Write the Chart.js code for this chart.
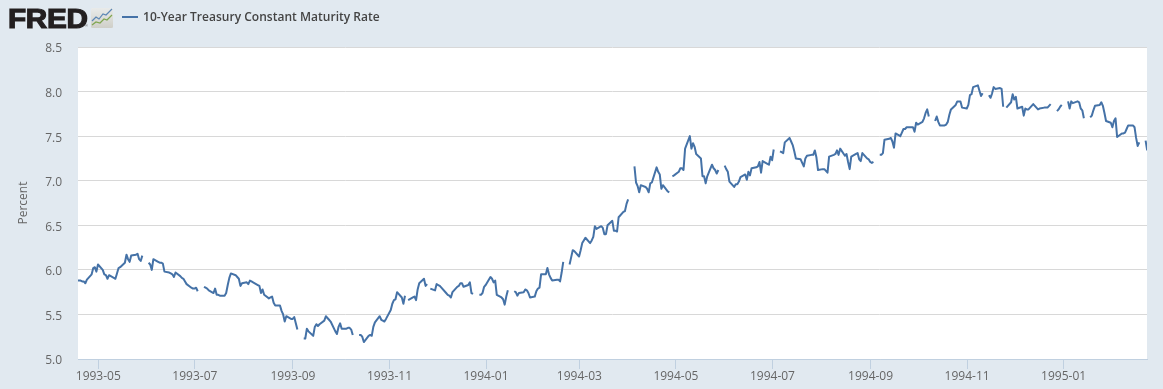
<!DOCTYPE html>
<html><head><meta charset="utf-8">
<script src="https://cdn.jsdelivr.net/npm/chart.js@4"></script>
<style>
html,body{margin:0;padding:0;background:#e1e9f0;width:1163px;height:389px;overflow:hidden}
#wrap{position:relative;width:1163px;height:389px}
canvas{position:absolute;left:0;top:0}
#logo{position:absolute;left:8px;top:1px;font:bold 27px/36px "Liberation Sans",sans-serif;color:#231f20;letter-spacing:-.3px;-webkit-text-stroke:1.2px #231f20;transform:scaleX(1.1);transform-origin:left center}
#reg{position:absolute;left:85px;top:23px;font:4px/5px "Liberation Sans",sans-serif;color:#555}
#icon{position:absolute;left:91px;top:8px}
#swatch{position:absolute;left:122px;top:16px;width:16px;height:2px;background:#4572a7}
#legend{position:absolute;left:143px;top:8px;font:600 12px/17px "Open Sans",sans-serif;color:#444;letter-spacing:.02px;white-space:nowrap}
</style></head><body>
<div id="wrap">
<canvas id="c" width="1163" height="389"></canvas>
<div id="logo">FRED</div>
<div id="reg">®</div>
<svg id="icon" width="22" height="20" viewBox="0 0 22 20"><defs><linearGradient id="g" x1="0" y1="0" x2="0" y2="1"><stop offset="0" stop-color="#e9ebea"/><stop offset="1" stop-color="#cfcfc8"/></linearGradient></defs><rect width="22" height="20" rx="1.5" fill="url(#g)"/><polyline points="1,13 5,9 8,11 12,6 15,7 21,1" fill="none" stroke="#5b86b5" stroke-width="1.2"/><polyline points="1,17 5,14 9,15 13,11 16,12 21,7" fill="none" stroke="#7fa650" stroke-width="1.2"/></svg>
<div id="swatch"></div>
<div id="legend">10-Year Treasury Constant Maturity Rate</div>
</div>
<script>
const seriesName = "10-Year Treasury Constant Maturity Rate";
const axisTitle = "Percent";
const firstMonday = "1993-04-12";
const monthTickDates = ["1993-05-01","1993-07-01","1993-09-01","1993-11-01","1994-01-01","1994-03-01","1994-05-01","1994-07-01","1994-09-01","1994-11-01","1995-01-01"];
const yTicks = [5,5.5,6,6.5,7,7.5,8,8.5];
// one row per week, Monday to Friday; null = market holiday / no value
const weeks1993a = [
[null,null,null,null,5.88],
[5.88,5.87,5.87,5.85,5.89],[5.95,6.02,6.03,5.98,6.06],[6.00,5.95,5.94,5.90,5.94],
[5.91,5.90,5.96,6.02,6.03],[6.08,6.17,6.12,6.09,6.16],[6.17,6.18,6.12,6.10,6.16],
[null,6.08,6.06,6.00,6.12],[6.09,6.08,6.08,6.07,5.98],[5.97,5.96,5.95,5.92,5.97],
[5.93,5.91,5.90,5.87,5.84],[5.80,5.79,5.79,5.80,5.76],[null,5.81,5.80,5.79,5.77],
[5.74,5.79,5.72,5.72,5.71],[5.71,5.74,5.83,5.91,5.96],[5.94,5.92,5.90,5.82,5.85]];
const weeks1993b = [
[5.86,5.84,5.88,5.87,5.86],[5.83,5.82,5.74,5.78,5.72],[5.68,5.69,5.70,5.63,5.60],
[5.60,5.54,5.50,5.42,5.48],[5.45,5.45,5.47,5.40,5.33],[null,5.23,5.23,5.34,5.31],
[5.26,5.36,5.39,5.37,5.39],[5.43,5.48,5.46,5.44,5.42],[5.31,5.28,5.36,5.40,5.34],
[5.34,5.35,5.35,5.33,5.27],[null,5.27,5.27,5.25,5.19],[5.26,5.27,5.26,5.36,5.41],
[5.48,5.44,5.43,5.42,5.45],[5.55,5.62,5.66,5.67,5.75],[5.69,5.62,5.71,null,5.66],
[5.69,5.70,5.66,5.78,5.85],[5.90,5.82,5.84,null,5.79],[5.77,5.84,5.83,5.82,5.80],
[5.74,5.72,5.71,5.69,5.75],[5.81,5.82,5.85,5.85,5.81],[5.83,5.86,5.74,5.73,null],
[5.72,5.72,5.74,5.81,5.83]];
const weeks1994a = [
[5.92,5.90,5.86,5.88,5.72],[5.69,5.67,5.61,5.70,5.77],[null,5.76,5.75,5.71,5.74],
[5.75,5.78,5.77,5.74,5.69],[5.70,5.76,5.79,5.80,5.95],[5.95,6.02,5.95,5.91,5.88],
[5.89,5.89,5.87,5.97,6.09],[null,6.06,6.14,6.22,6.21],[6.15,6.22,6.30,6.33,6.36],
[6.30,6.33,6.37,6.49,6.46],[6.49,6.47,6.40,6.40,6.50],[6.55,6.44,6.44,6.43,6.59],
[6.65,6.66,6.74,6.79,null],[7.16,6.98,6.94,6.87,6.95],[6.93,6.91,6.87,6.97,6.98],
[7.15,7.10,7.07,6.91,6.95],[6.88,6.87,null,7.05,7.06],[7.10,7.14,7.14,7.12,7.36],
[7.50,7.36,7.42,7.38,7.30],[7.25,7.05,7.05,6.97,7.05],[7.18,7.14,7.12,7.08,7.12],
[null,7.17,7.13,7.10,6.99],[6.93,6.96,6.96,6.99,7.04],[7.07,7.01,7.10,7.06,7.14],
[7.15,7.16,7.21,7.09,7.22],[7.19,7.18,7.27,7.23,7.35]];
const weeks1994b = [
[null,7.33,7.32,7.31,7.43],[7.48,7.44,7.40,7.33,7.25],[7.24,7.20,7.16,7.25,7.28],
[7.29,7.29,7.34,7.26,7.12],[7.13,7.13,7.11,7.09,7.27],[7.29,7.30,7.34,7.29,7.36],
[7.28,7.30,7.21,7.13,7.27],[7.30,7.31,7.24,7.22,7.31],[7.25,7.24,7.21,7.20,7.21],
[null,7.29,7.29,7.31,7.46],[7.47,7.48,7.44,7.37,7.53],[7.50,7.54,7.58,7.58,7.60],
[7.60,7.60,7.55,7.65,7.63],[7.66,7.70,7.76,7.80,7.72],[null,7.67,7.72,7.66,7.62],
[7.62,7.63,7.66,7.74,7.80],[7.85,7.89,7.89,7.89,7.82],[7.81,7.85,7.96,7.97,8.05],
[8.07,8.01,7.95,7.98,null],[7.96,7.93,7.98,8.05,8.03],[8.04,8.03,7.83,null,7.82],
[7.88,7.97,7.91,7.94,7.81],[7.83,7.73,7.81,7.80,7.80],[7.86,7.84,7.82,7.80,7.81],
[7.82,7.82,7.82,7.84,7.86],[null,7.78,7.80,7.83,7.85]];
const weeks1995 = [
[null,7.89,7.81,7.89,7.87],[7.89,7.88,7.81,7.79,7.70],[null,7.71,7.73,7.79,7.84],
[7.85,7.88,7.84,7.76,7.67],[7.65,7.60,7.67,7.70,7.49],[7.53,7.53,7.54,7.58,7.62],
[7.62,7.60,7.48,7.39,7.43],[null,7.45,7.34]];

const DAY = 86400000;
const dayOf = s => Date.parse(s + "T00:00:00Z") / DAY;
const allWeeks = [...weeks1993a, ...weeks1993b, ...weeks1994a, ...weeks1994b, ...weeks1995];
const points = [];
allWeeks.forEach((w, i) => w.forEach((v, j) => {
  points.push({ x: dayOf(firstMonday) + i * 7 + j, y: v });
}));
const tickShift = 0.8; // the source draws month ticks a little ahead of the data
const monthTicks = monthTickDates.map(s => dayOf(s) - tickShift);
const origin = dayOf("1993-05-01");
const pxPerDay = 1.5825, dataZeroPx = 99.57, plotLeft = 78, plotRight = 1147;

const whitePlot = { id: "whitePlot", beforeDraw(c) {
  const a = c.chartArea; c.ctx.save(); c.ctx.fillStyle = "#fff";
  c.ctx.fillRect(a.left, a.top, a.right - a.left, a.bottom - a.top); c.ctx.restore();
}};
Chart.defaults.font.family = '"Open Sans", sans-serif';
Chart.defaults.font.size = 12;
Chart.defaults.color = "#666";
new Chart(document.getElementById("c"), {
  type: "line",
  data: { datasets: [{ label: seriesName, data: points, borderColor: "#4572a7", borderWidth: 2,
    pointRadius: 0, pointHoverRadius: 0, spanGaps: false, tension: 0, fill: false, borderJoinStyle: "round" }] },
  options: {
    responsive: false, animation: false, parsing: true,
    layout: { padding: { top: 47, right: 16, left: 0, bottom: 0 } },
    plugins: { legend: { display: false }, tooltip: { enabled: false } },
    scales: {
      x: { type: "linear",
        min: origin + (plotLeft - dataZeroPx) / pxPerDay,
        max: origin + (plotRight - dataZeroPx) / pxPerDay,
        afterBuildTicks: s => { s.ticks = monthTicks.map(v => ({ value: v })); },
        afterFit: s => { s.height = 30; },
        border: { color: "#c0d0e0", width: 1 },
        grid: { drawOnChartArea: false, drawTicks: true, tickLength: 10, color: "#c0d0e0" },
        ticks: { autoSkip: false, maxRotation: 0, padding: 0, color: "#666",
          callback: (v) => { const k = monthTicks.indexOf(v); return k < 0 ? "" : monthTickDates[k].slice(0, 7); } }
      },
      y: { min: 5, max: 8.5,
        afterBuildTicks: s => { s.ticks = yTicks.map(v => ({ value: v })); },
        afterFit: s => { s.width = 78; },
        border: { display: false },
        grid: { color: "#d8d8d8", drawTicks: false },
        title: { display: true, text: axisTitle, color: "#666", font: { size: 12 }, padding: { top: 16, bottom: 0 } },
        ticks: { padding: 16, labelOffset: 2, color: "#666", callback: v => v.toFixed(1) }
      }
    }
  },
  plugins: [whitePlot]
});
</script>
</body></html>
